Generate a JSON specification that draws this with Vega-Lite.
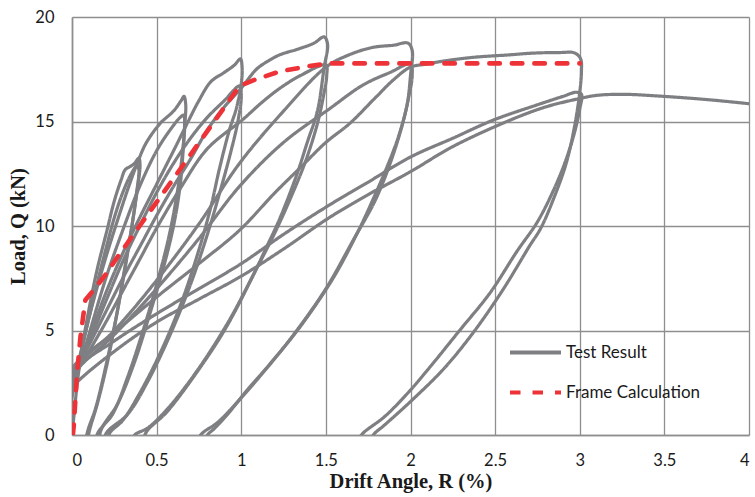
{
  "$schema": "https://vega.github.io/schema/vega-lite/v6.json",
  "width": 677,
  "height": 418,
  "autosize": {"type": "none"},
  "padding": {"left": 72, "top": 17, "right": 6, "bottom": 62},
  "background": "white",
  "config": {
    "view": {"stroke": null},
    "axis": {
      "grid": true,
      "gridColor": "#8e8e8e",
      "gridWidth": 1.3,
      "domainColor": "#8e8e8e",
      "domainWidth": 1.6,
      "ticks": false,
      "labelFont": "Lato",
      "labelFontSize": 16.5,
      "labelColor": "#1a1a1a",
      "titleFont": "Liberation Serif",
      "titleFontSize": 20.5,
      "titleFontWeight": "bold",
      "titleColor": "#1a1a1a"
    }
  },
  "datasets": {
    "test": [
      {"s":"A1","x":0,"y":0},{"s":"A1","x":0.015,"y":1.2},{"s":"A1","x":0.03,"y":2.4},{"s":"A1","x":0.06,"y":4.2},{"s":"A1","x":0.1,"y":6.0},{"s":"A1","x":0.148,"y":7.9},{"s":"A1","x":0.207,"y":9.8},{"s":"A1","x":0.25,"y":11.2},{"s":"A1","x":0.29,"y":12.2},{"s":"A1","x":0.315,"y":12.7},{"s":"A1","x":0.345,"y":12.85},{"s":"A1","x":0.37,"y":13.0},{"s":"A1","x":0.395,"y":13.25},{"s":"A1","x":0.402,"y":12.9},{"s":"A1","x":0.39,"y":12.0},{"s":"A1","x":0.36,"y":10.3},{"s":"A1","x":0.32,"y":8.4},{"s":"A1","x":0.27,"y":6.0},{"s":"A1","x":0.21,"y":3.5},{"s":"A1","x":0.15,"y":1.5},{"s":"A1","x":0.1,"y":0.1},{"s":"A1","x":0.08,"y":-1},
      {"s":"A2","x":-0.05,"y":-1},{"s":"A2","x":0,"y":1.8},{"s":"A2","x":0.05,"y":3.8},{"s":"A2","x":0.1,"y":5.6},{"s":"A2","x":0.15,"y":7.3},{"s":"A2","x":0.2,"y":8.9},{"s":"A2","x":0.25,"y":10.4},{"s":"A2","x":0.3,"y":11.6},{"s":"A2","x":0.35,"y":12.5},{"s":"A2","x":0.385,"y":12.9},{"s":"A2","x":0.395,"y":12.7},{"s":"A2","x":0.38,"y":11.5},{"s":"A2","x":0.35,"y":9.8},{"s":"A2","x":0.31,"y":7.8},{"s":"A2","x":0.26,"y":5.6},{"s":"A2","x":0.2,"y":3.3},{"s":"A2","x":0.14,"y":1.3},{"s":"A2","x":0.09,"y":0.1},{"s":"A2","x":0.07,"y":-1},
      {"s":"B1","x":-0.08,"y":-1},{"s":"B1","x":0,"y":2.2},{"s":"B1","x":0.05,"y":3.9},{"s":"B1","x":0.1,"y":5.6},{"s":"B1","x":0.15,"y":7.1},{"s":"B1","x":0.2,"y":8.5},{"s":"B1","x":0.27,"y":10.3},{"s":"B1","x":0.34,"y":12.0},{"s":"B1","x":0.4,"y":13.3},{"s":"B1","x":0.44,"y":14.0},{"s":"B1","x":0.52,"y":14.9},{"s":"B1","x":0.6,"y":15.5},{"s":"B1","x":0.645,"y":16.0},{"s":"B1","x":0.662,"y":16.2},{"s":"B1","x":0.672,"y":15.8},{"s":"B1","x":0.668,"y":15.0},{"s":"B1","x":0.66,"y":14.0},{"s":"B1","x":0.64,"y":12.0},{"s":"B1","x":0.6,"y":10.0},{"s":"B1","x":0.54,"y":8.0},{"s":"B1","x":0.46,"y":5.8},{"s":"B1","x":0.37,"y":3.5},{"s":"B1","x":0.27,"y":1.5},{"s":"B1","x":0.17,"y":0.2},{"s":"B1","x":0.15,"y":-1},
      {"s":"B2","x":-0.08,"y":-1},{"s":"B2","x":0,"y":2.0},{"s":"B2","x":0.1,"y":4.8},{"s":"B2","x":0.2,"y":7.5},{"s":"B2","x":0.3,"y":9.8},{"s":"B2","x":0.4,"y":11.9},{"s":"B2","x":0.5,"y":13.6},{"s":"B2","x":0.58,"y":14.6},{"s":"B2","x":0.64,"y":15.2},{"s":"B2","x":0.66,"y":15.3},{"s":"B2","x":0.665,"y":14.8},{"s":"B2","x":0.65,"y":13.3},{"s":"B2","x":0.62,"y":11.5},{"s":"B2","x":0.57,"y":9.4},{"s":"B2","x":0.5,"y":7.2},{"s":"B2","x":0.42,"y":5.0},{"s":"B2","x":0.33,"y":2.8},{"s":"B2","x":0.24,"y":1.0},{"s":"B2","x":0.15,"y":0.05},{"s":"B2","x":0.13,"y":-1},
      {"s":"C1","x":-0.1,"y":-1},{"s":"C1","x":0,"y":2.5},{"s":"C1","x":0.1,"y":4.6},{"s":"C1","x":0.2,"y":6.8},{"s":"C1","x":0.3,"y":8.7},{"s":"C1","x":0.4,"y":10.4},{"s":"C1","x":0.5,"y":12.0},{"s":"C1","x":0.6,"y":13.6},{"s":"C1","x":0.68,"y":14.9},{"s":"C1","x":0.75,"y":16.0},{"s":"C1","x":0.82,"y":16.9},{"s":"C1","x":0.9,"y":17.35},{"s":"C1","x":0.96,"y":17.7},{"s":"C1","x":0.995,"y":18.0},{"s":"C1","x":1.005,"y":17.6},{"s":"C1","x":1.0,"y":16.8},{"s":"C1","x":0.97,"y":15.6},{"s":"C1","x":0.93,"y":14.6},{"s":"C1","x":0.87,"y":12.7},{"s":"C1","x":0.82,"y":10.9},{"s":"C1","x":0.74,"y":8.6},{"s":"C1","x":0.64,"y":6.2},{"s":"C1","x":0.52,"y":3.9},{"s":"C1","x":0.4,"y":2.0},{"s":"C1","x":0.3,"y":0.7},{"s":"C1","x":0.22,"y":0.05},{"s":"C1","x":0.2,"y":-1},
      {"s":"C2","x":-0.1,"y":-1},{"s":"C2","x":0,"y":2.3},{"s":"C2","x":0.1,"y":4.4},{"s":"C2","x":0.2,"y":6.4},{"s":"C2","x":0.3,"y":8.3},{"s":"C2","x":0.4,"y":10.0},{"s":"C2","x":0.5,"y":11.6},{"s":"C2","x":0.6,"y":13.0},{"s":"C2","x":0.7,"y":14.2},{"s":"C2","x":0.8,"y":15.2},{"s":"C2","x":0.9,"y":16.0},{"s":"C2","x":0.99,"y":16.7},{"s":"C2","x":1.0,"y":16.2},{"s":"C2","x":0.98,"y":15.0},{"s":"C2","x":0.94,"y":13.6},{"s":"C2","x":0.88,"y":11.8},{"s":"C2","x":0.8,"y":9.6},{"s":"C2","x":0.7,"y":7.2},{"s":"C2","x":0.58,"y":4.8},{"s":"C2","x":0.45,"y":2.6},{"s":"C2","x":0.33,"y":1.0},{"s":"C2","x":0.2,"y":0.05},{"s":"C2","x":0.18,"y":-1},
      {"s":"D1","x":-0.15,"y":-1},{"s":"D1","x":0,"y":2.8},{"s":"D1","x":0.1,"y":4.3},{"s":"D1","x":0.2,"y":5.9},{"s":"D1","x":0.3,"y":7.5},{"s":"D1","x":0.4,"y":9.0},{"s":"D1","x":0.5,"y":10.5},{"s":"D1","x":0.6,"y":11.9},{"s":"D1","x":0.7,"y":13.2},{"s":"D1","x":0.8,"y":14.6},{"s":"D1","x":0.9,"y":15.7},{"s":"D1","x":1.0,"y":16.6},{"s":"D1","x":1.09,"y":17.5},{"s":"D1","x":1.16,"y":17.9},{"s":"D1","x":1.23,"y":18.2},{"s":"D1","x":1.33,"y":18.45},{"s":"D1","x":1.43,"y":18.75},{"s":"D1","x":1.49,"y":19.05},{"s":"D1","x":1.51,"y":18.7},{"s":"D1","x":1.49,"y":17.6},{"s":"D1","x":1.45,"y":15.5},{"s":"D1","x":1.39,"y":14.0},{"s":"D1","x":1.33,"y":12.5},{"s":"D1","x":1.23,"y":10.4},{"s":"D1","x":1.15,"y":9.0},{"s":"D1","x":1.05,"y":7.3},{"s":"D1","x":0.9,"y":5.0},{"s":"D1","x":0.72,"y":2.8},{"s":"D1","x":0.56,"y":1.1},{"s":"D1","x":0.44,"y":0.15},{"s":"D1","x":0.41,"y":-0.5},
      {"s":"D2","x":-0.15,"y":-1},{"s":"D2","x":0,"y":2.6},{"s":"D2","x":0.1,"y":4.0},{"s":"D2","x":0.2,"y":5.4},{"s":"D2","x":0.3,"y":6.9},{"s":"D2","x":0.4,"y":8.4},{"s":"D2","x":0.5,"y":9.9},{"s":"D2","x":0.64,"y":11.8},{"s":"D2","x":0.8,"y":13.7},{"s":"D2","x":1.01,"y":15.1},{"s":"D2","x":1.12,"y":15.9},{"s":"D2","x":1.23,"y":16.6},{"s":"D2","x":1.35,"y":17.2},{"s":"D2","x":1.5,"y":17.7},{"s":"D2","x":1.505,"y":17.2},{"s":"D2","x":1.49,"y":16.4},{"s":"D2","x":1.45,"y":14.9},{"s":"D2","x":1.38,"y":13.1},{"s":"D2","x":1.3,"y":11.5},{"s":"D2","x":1.2,"y":9.7},{"s":"D2","x":1.08,"y":7.8},{"s":"D2","x":0.93,"y":5.5},{"s":"D2","x":0.75,"y":3.2},{"s":"D2","x":0.58,"y":1.4},{"s":"D2","x":0.45,"y":0.35},{"s":"D2","x":0.37,"y":0},{"s":"D2","x":0.34,"y":-0.5},
      {"s":"E1","x":-0.2,"y":-1},{"s":"E1","x":0,"y":3.0},{"s":"E1","x":0.25,"y":5.0},{"s":"E1","x":0.5,"y":7.4},{"s":"E1","x":0.75,"y":10.1},{"s":"E1","x":0.99,"y":13.0},{"s":"E1","x":1.25,"y":15.5},{"s":"E1","x":1.5,"y":17.6},{"s":"E1","x":1.64,"y":18.2},{"s":"E1","x":1.78,"y":18.55},{"s":"E1","x":1.9,"y":18.65},{"s":"E1","x":1.985,"y":18.75},{"s":"E1","x":2.01,"y":18.4},{"s":"E1","x":2.0,"y":17.2},{"s":"E1","x":1.98,"y":15.8},{"s":"E1","x":1.93,"y":14.3},{"s":"E1","x":1.86,"y":12.8},{"s":"E1","x":1.78,"y":11.3},{"s":"E1","x":1.7,"y":9.9},{"s":"E1","x":1.55,"y":7.6},{"s":"E1","x":1.35,"y":5.2},{"s":"E1","x":1.18,"y":3.5},{"s":"E1","x":1.03,"y":2.1},{"s":"E1","x":0.92,"y":1.0},{"s":"E1","x":0.84,"y":0.3},{"s":"E1","x":0.8,"y":0},{"s":"E1","x":0.78,"y":-0.5},
      {"s":"E2","x":-0.2,"y":-1},{"s":"E2","x":0,"y":2.8},{"s":"E2","x":0.25,"y":4.8},{"s":"E2","x":0.5,"y":7.0},{"s":"E2","x":0.75,"y":9.4},{"s":"E2","x":0.99,"y":11.9},{"s":"E2","x":1.25,"y":14.0},{"s":"E2","x":1.52,"y":15.6},{"s":"E2","x":1.72,"y":16.75},{"s":"E2","x":1.88,"y":17.35},{"s":"E2","x":2.0,"y":17.75},{"s":"E2","x":2.01,"y":17.2},{"s":"E2","x":1.99,"y":16.2},{"s":"E2","x":1.95,"y":14.8},{"s":"E2","x":1.88,"y":13.0},{"s":"E2","x":1.79,"y":11.2},{"s":"E2","x":1.66,"y":9.3},{"s":"E2","x":1.5,"y":7.0},{"s":"E2","x":1.3,"y":4.7},{"s":"E2","x":1.12,"y":2.9},{"s":"E2","x":0.98,"y":1.6},{"s":"E2","x":0.86,"y":0.6},{"s":"E2","x":0.76,"y":0},{"s":"E2","x":0.74,"y":-0.5},
      {"s":"F1","x":-0.3,"y":-1},{"s":"F1","x":0,"y":3.2},{"s":"F1","x":0.25,"y":4.9},{"s":"F1","x":0.5,"y":6.6},{"s":"F1","x":0.75,"y":8.2},{"s":"F1","x":0.99,"y":9.8},{"s":"F1","x":1.2,"y":11.6},{"s":"F1","x":1.35,"y":12.8},{"s":"F1","x":1.5,"y":14.0},{"s":"F1","x":1.64,"y":14.9},{"s":"F1","x":1.8,"y":16.2},{"s":"F1","x":1.9,"y":17.0},{"s":"F1","x":2.0,"y":17.6},{"s":"F1","x":2.1,"y":17.75},{"s":"F1","x":2.17,"y":17.86},{"s":"F1","x":2.37,"y":18.07},{"s":"F1","x":2.57,"y":18.18},{"s":"F1","x":2.72,"y":18.27},{"s":"F1","x":2.88,"y":18.3},{"s":"F1","x":2.97,"y":18.28},{"s":"F1","x":3.005,"y":18.0},{"s":"F1","x":3.01,"y":17.4},{"s":"F1","x":3.0,"y":16.4},{"s":"F1","x":2.97,"y":14.8},{"s":"F1","x":2.92,"y":13.0},{"s":"F1","x":2.85,"y":11.4},{"s":"F1","x":2.77,"y":9.9},{"s":"F1","x":2.7,"y":9.0},{"s":"F1","x":2.55,"y":7.0},{"s":"F1","x":2.38,"y":5.0},{"s":"F1","x":2.2,"y":3.2},{"s":"F1","x":2.0,"y":1.6},{"s":"F1","x":1.85,"y":0.5},{"s":"F1","x":1.78,"y":0},{"s":"F1","x":1.75,"y":-0.5},
      {"s":"F2","x":-0.3,"y":-1},{"s":"F2","x":0,"y":3.0},{"s":"F2","x":0.25,"y":4.5},{"s":"F2","x":0.5,"y":5.8},{"s":"F2","x":0.75,"y":7.0},{"s":"F2","x":1.0,"y":8.2},{"s":"F2","x":1.25,"y":9.6},{"s":"F2","x":1.52,"y":11.0},{"s":"F2","x":1.75,"y":12.1},{"s":"F2","x":2.0,"y":13.3},{"s":"F2","x":2.25,"y":14.2},{"s":"F2","x":2.49,"y":15.07},{"s":"F2","x":2.75,"y":15.8},{"s":"F2","x":2.9,"y":16.2},{"s":"F2","x":2.98,"y":16.4},{"s":"F2","x":3.01,"y":16.3},{"s":"F2","x":3.0,"y":15.6},{"s":"F2","x":2.97,"y":14.5},{"s":"F2","x":2.92,"y":13.2},{"s":"F2","x":2.85,"y":11.8},{"s":"F2","x":2.75,"y":10.2},{"s":"F2","x":2.63,"y":8.8},{"s":"F2","x":2.47,"y":6.8},{"s":"F2","x":2.29,"y":5.0},{"s":"F2","x":2.12,"y":3.3},{"s":"F2","x":2.0,"y":2.15},{"s":"F2","x":1.85,"y":0.9},{"s":"F2","x":1.71,"y":0},{"s":"F2","x":1.68,"y":-0.5},
      {"s":"G","x":-0.35,"y":-1},{"s":"G","x":0,"y":2.3},{"s":"G","x":0.25,"y":4.0},{"s":"G","x":0.5,"y":5.4},{"s":"G","x":0.75,"y":6.5},{"s":"G","x":1.0,"y":7.6},{"s":"G","x":1.25,"y":8.9},{"s":"G","x":1.52,"y":10.4},{"s":"G","x":1.75,"y":11.5},{"s":"G","x":2.0,"y":12.6},{"s":"G","x":2.25,"y":13.8},{"s":"G","x":2.59,"y":15.07},{"s":"G","x":2.8,"y":15.7},{"s":"G","x":3.0,"y":16.1},{"s":"G","x":3.1,"y":16.25},{"s":"G","x":3.26,"y":16.3},{"s":"G","x":3.5,"y":16.2},{"s":"G","x":3.75,"y":16.05},{"s":"G","x":4.0,"y":15.85},{"s":"G","x":4.05,"y":15.8}
    ],
    "frame": [
      {"x":0.005,"y":0},{"x":0.01,"y":0.4},{"x":0.03,"y":2.96},{"x":0.05,"y":4.7},{"x":0.079,"y":6.46},{"x":0.128,"y":6.94},{"x":0.197,"y":7.66},{"x":0.276,"y":8.6},{"x":0.99,"y":16.7},{"x":1.08,"y":17.0},{"x":1.23,"y":17.4},{"x":1.4,"y":17.65},{"x":1.52,"y":17.78},{"x":3.0,"y":17.78}
    ]
  },
  "layer": [
    {
      "data": {"name": "test"},
      "mark": {"type": "line", "clip": true, "strokeWidth": 3.2, "interpolate": "catmull-rom"},
      "encoding": {
        "x": {"field": "x", "type": "quantitative", "scale": {"domain": [0, 4], "nice": false, "zero": false},
              "axis": {"values": [0, 0.5, 1, 1.5, 2, 2.5, 3, 3.5, 4], "format": "~g", "labelPadding": 17, "title": "Drift Angle, R (%)", "titlePadding": 3}},
        "y": {"field": "y", "type": "quantitative", "scale": {"domain": [0, 20], "nice": false, "zero": false},
              "axis": {"values": [0, 5, 10, 15, 20], "labelPadding": 18, "title": "Load, Q (kN)", "titlePadding": 6}},
        "detail": {"field": "s"},
        "order": {"value": null},
        "color": {"datum": "Test Result", "type": "nominal",
                  "scale": {"domain": ["Test Result", "Frame Calculation"], "range": ["#7e7f82", "#ee3338"]},
                  "legend": {"title": null, "orient": "none", "legendX": 436, "legendY": 308, "symbolType": "stroke", "symbolSize": 2600, "symbolStrokeWidth": 4, "labelFont": "Lato", "labelFontSize": 17, "labelColor": "#1a1a1a", "rowPadding": 4, "labelOffset": 3, "padding": 0}},
        "strokeDash": {"datum": "Test Result", "type": "nominal",
                       "scale": {"domain": ["Test Result", "Frame Calculation"], "range": [[1, 0], [10.5, 12]]},
                       "legend": {"title": null}}
      }
    },
    {
      "data": {"name": "frame"},
      "mark": {"type": "line", "clip": true, "strokeWidth": 4.6, "strokeCap": "round"},
      "encoding": {
        "x": {"field": "x", "type": "quantitative"},
        "y": {"field": "y", "type": "quantitative"},
        "order": {"value": null},
        "color": {"datum": "Frame Calculation", "type": "nominal"},
        "strokeDash": {"datum": "Frame Calculation", "type": "nominal"}
      }
    }
  ]
}
